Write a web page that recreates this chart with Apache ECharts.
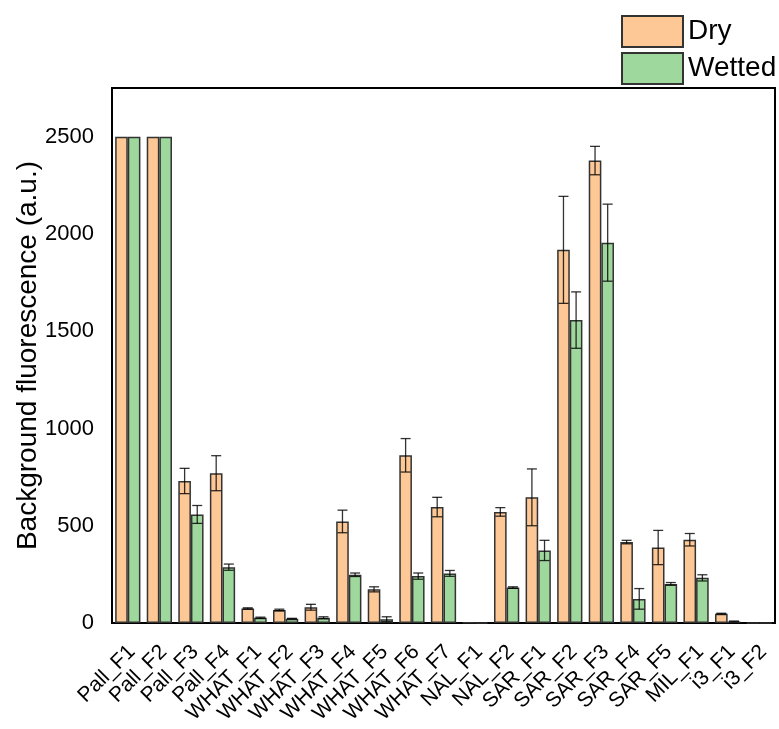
<!DOCTYPE html>
<html>
<head>
<meta charset="utf-8">
<script src="https://cdn.jsdelivr.net/npm/echarts@6/dist/echarts.min.js"></script>
<style>
  html, body { margin: 0; padding: 0; background: #fff; }
  #chart { width: 779px; height: 729px; }
</style>
</head>
<body>
<div id="chart"></div>
<script>
  const categories = ['Pall_F1', 'Pall_F2', 'Pall_F3', 'Pall_F4',
    'WHAT_F1', 'WHAT_F2', 'WHAT_F3', 'WHAT_F4', 'WHAT_F5', 'WHAT_F6', 'WHAT_F7',
    'NAL_F1', 'NAL_F2', 'SAR_F1', 'SAR_F2', 'SAR_F3', 'SAR_F4', 'SAR_F5',
    'MIL_F1', 'i3_F1', 'i3_F2'];
  const dry = [2500, 2500, 730, 770, 75, 67, 81, 522, 173, 862, 596, 2, 571, 646, 1918, 2377, 416, 388, 428, 48, 1];
  const dryErr = [0, 0, 65, 90, 3, 4, 15, 58, 13, 86, 50, 0, 22, 146, 275, 73, 9, 88, 32, 2, 0];
  const wetted = [2500, 2500, 558, 287, 27, 22, 27, 248, 19, 241, 255, 1, 182, 373, 1557, 1955, 124, 201, 232, 8, 1];
  const wettedErr = [0, 0, 46, 16, 3, 2, 5, 9, 13, 16, 15, 0, 4, 52, 145, 198, 53, 7, 16, 2, 0];
  const majorTicks = [0, 500, 1000, 1500, 2000, 2500];
  const minorTicks = [250, 750, 1250, 1750, 2250];

  const font = '"Liberation Sans", Arial, sans-serif';

  // error bars, shifted left/right onto each half of the bar pair
  function errBars(side) {
    return function (params, api) {
      const i = api.value(0), v = api.value(1), e = api.value(2);
      if (!e) return;
      const band = api.size([1, 0])[0];
      const x = api.coord([i, v])[0] + side * band * 0.2;
      const yt = api.coord([i, v + e])[1];
      const yb = api.coord([i, Math.max(v - e, 0)])[1];
      const st = { stroke: 'rgba(0,0,0,0.8)', lineWidth: 1.3 };
      return {
        type: 'group',
        children: [
          { type: 'line', shape: { x1: x, y1: yt, x2: x, y2: yb }, style: st },
          { type: 'line', shape: { x1: x - 5, y1: yt, x2: x + 5, y2: yt }, style: st },
          { type: 'line', shape: { x1: x - 5, y1: yb, x2: x + 5, y2: yb }, style: st }
        ]
      };
    };
  }

  const chart = echarts.init(document.getElementById('chart'));
  chart.setOption({
    backgroundColor: '#fff',
    animation: false,
    textStyle: { fontFamily: font, color: '#000' },
    legend: {
      data: ['Dry', 'Wetted'],
      icon: 'rect',
      orient: 'vertical',
      left: 621, top: 15,
      itemWidth: 61, itemHeight: 31, itemGap: 4,
      padding: 0,
      textStyle: { fontSize: 28, color: '#000', fontFamily: font }
    },
    grid: {
      left: 112, right: 4, top: 88, bottom: 106,
      containLabel: false, outerBoundsMode: 'none',
      show: true, borderColor: '#000', borderWidth: 2
    },
    xAxis: {
      type: 'category',
      data: categories,
      axisLine: { lineStyle: { color: '#000', width: 2 } },
      axisTick: { alignWithLabel: true, length: 8, lineStyle: { color: '#000', width: 2 } },
      axisLabel: {
        rotate: 45, interval: 0, fontSize: 21, color: '#000', fontFamily: font,
        margin: 30, padding: [0, -6, 0, 0]
      }
    },
    yAxis: [{
      type: 'value', min: 0, max: 2750, interval: 500,
      name: 'Background fluorescence (a.u.)',
      nameLocation: 'middle', nameGap: 70, nameMoveOverlap: false,
      nameTextStyle: { fontSize: 28, color: '#000', fontFamily: font },
      splitLine: { show: false },
      axisLine: { show: true, lineStyle: { color: '#000', width: 2 } },
      axisTick: { customValues: majorTicks, length: 10, lineStyle: { color: '#000', width: 2 } },
      axisLabel: {
        customValues: majorTicks, fontSize: 22, color: '#000', fontFamily: font, margin: 18,
        formatter: v => String(v)
      }
    }, {
      type: 'value', min: 0, max: 2750, position: 'left',
      splitLine: { show: false },
      axisLine: { show: false },
      axisTick: { customValues: minorTicks, length: 5, lineStyle: { color: '#000', width: 2 } },
      axisLabel: { show: false }
    }],
    series: [{
      name: 'Dry', type: 'bar', data: dry,
      barWidth: '40%', barGap: '0%',
      itemStyle: { color: '#fdc896', borderColor: '#333', borderWidth: 1.5 }
    }, {
      name: 'Wetted', type: 'bar', data: wetted,
      barWidth: '40%',
      itemStyle: { color: '#9fd89c', borderColor: '#333', borderWidth: 1.5 }
    }, {
      type: 'custom', renderItem: errBars(-1), z: 5,
      data: dry.map((v, i) => [i, v, dryErr[i]])
    }, {
      type: 'custom', renderItem: errBars(1), z: 5,
      data: wetted.map((v, i) => [i, v, wettedErr[i]])
    }]
  });
</script>
</body>
</html>
